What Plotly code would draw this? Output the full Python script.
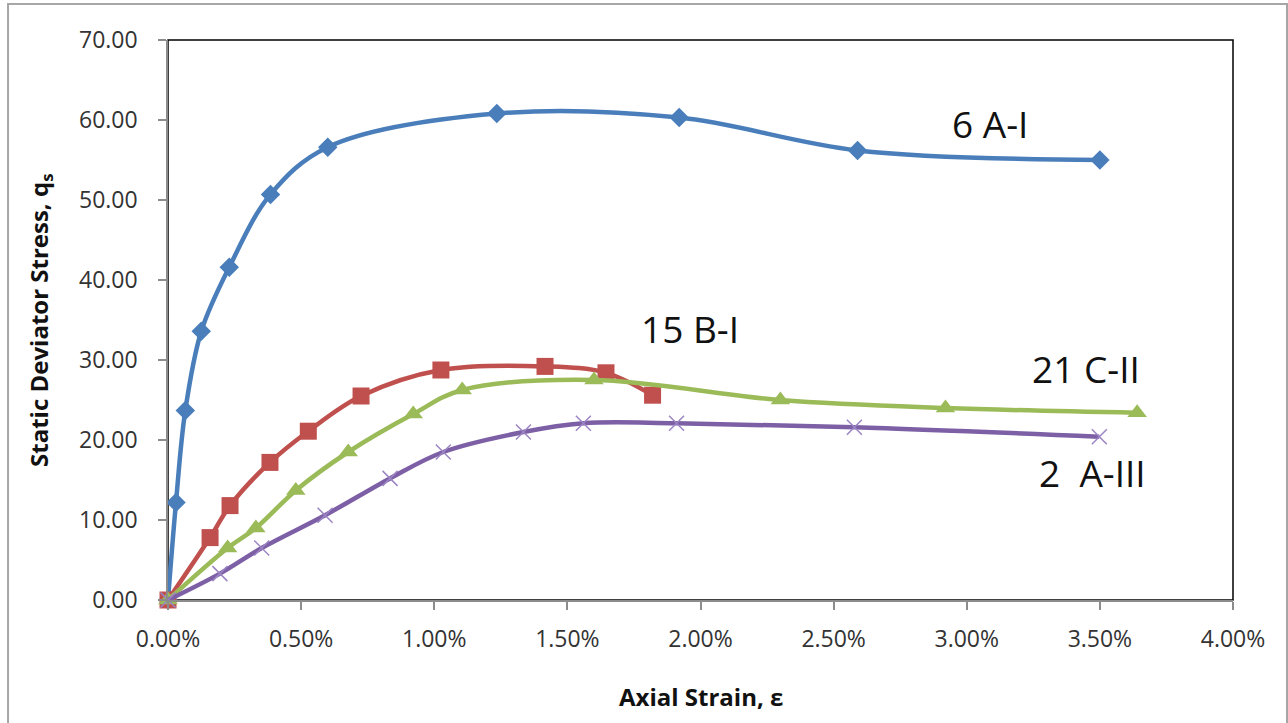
import plotly.graph_objects as go

# Axial strain (fraction) and static deviator stress for each specimen
strain_6AI = [0.0, 0.0003, 0.00065, 0.00125, 0.0023, 0.00385, 0.0060, 0.01235, 0.0192, 0.0259, 0.0350]
stress_6AI = [0.0, 12.2, 23.7, 33.6, 41.6, 50.7, 56.6, 60.8, 60.3, 56.2, 55.0]

strain_15BI = [0.0, 0.00158, 0.00233, 0.00383, 0.00527, 0.00725, 0.01025, 0.01416, 0.01645, 0.0182]
stress_15BI = [0.0, 7.8, 11.8, 17.2, 21.1, 25.5, 28.75, 29.2, 28.4, 25.6]

strain_21CII = [0.0, 0.00224, 0.0033, 0.0048, 0.00677, 0.00921, 0.01105, 0.0160, 0.0230, 0.0292, 0.0364]
stress_21CII = [0.0, 6.5, 9.0, 13.7, 18.5, 23.25, 26.25, 27.5, 25.0, 24.0, 23.4]

strain_2AIII = [0.0, 0.00195, 0.00352, 0.0059, 0.00834, 0.01034, 0.01335, 0.0156, 0.0191, 0.02578, 0.03498]
stress_2AIII = [0.0, 3.3, 6.5, 10.6, 15.2, 18.5, 21.0, 22.1, 22.1, 21.6, 20.4]

series_labels = ["6 A-I", "15 B-I", "21 C-II", "2  A-III"]
label_x = [0.03087, 0.0196, 0.03448, 0.03474]
label_y = [59.6, 34.0, 29.0, 16.0]

y_ticks = [0, 10, 20, 30, 40, 50, 60, 70]
x_ticks = [0.0, 0.005, 0.01, 0.015, 0.02, 0.025, 0.03, 0.035, 0.04]

fig = go.Figure()

def add_series(x, y, color, symbol, size, mline=0, mcolor=None):
    fig.add_trace(go.Scatter(
        x=x, y=y, mode="lines+markers",
        line=dict(color=color, width=4.5, shape="spline", smoothing=1.0),
        marker=dict(symbol=symbol, size=size, color=mcolor or color,
                    line=dict(width=mline, color=mcolor or color)),
        cliponaxis=False, showlegend=False,
    ))

add_series(strain_6AI, stress_6AI, "#4A7EBB", "diamond", 15)
add_series(strain_15BI, stress_15BI, "#C0504D", "square", 17)
add_series(strain_21CII, stress_21CII, "#9BBB59", "triangle-up", 17)
add_series(strain_2AIII, stress_2AIII, "#7D5FA6", "x-thin-open", 15, mline=1.5, mcolor="#9C85C4")

for text, lx, ly in zip(series_labels, label_x, label_y):
    fig.add_annotation(x=lx, y=ly, text=text, showarrow=False,
                       font=dict(family="Open Sans", size=37, color="#111111"),
                       xanchor="center", yanchor="middle")

# Axis titles
fig.add_annotation(xref="paper", yref="paper", x=0.5, y=-0.1732,
                   text="<b>Axial Strain, ε</b>", showarrow=False,
                   font=dict(family="Open Sans", size=24, color="#111111"),
                   xanchor="center", yanchor="middle")
fig.add_annotation(xref="paper", yref="paper", x=-0.1202, y=0.5,
                   text="<b>Static Deviator Stress, q<sub>s</sub></b>", showarrow=False,
                   textangle=-90,
                   font=dict(family="Open Sans", size=24, color="#111111"),
                   xanchor="center", yanchor="middle")

# Outer chart frame and plot-area frame
fig.add_shape(type="rect", xref="paper", yref="paper",
              x0=-0.1502, x1=1.0507, y0=-0.2232, y1=1.0643,
              line=dict(color="#A6A6A6", width=2), layer="below")
fig.add_shape(type="rect", xref="paper", yref="paper",
              x0=0, x1=1, y0=0, y1=1,
              line=dict(color="#000000", width=1.5), layer="below")

fig.update_layout(
    width=1288, height=723,
    margin=dict(l=168, r=55, t=40, b=123),
    paper_bgcolor="white", plot_bgcolor="white",
    font=dict(family="Open Sans", color="#333333"),
)
fig.update_xaxes(
    range=[0, 0.04], tickvals=x_ticks, tickformat=".2%",
    showgrid=False, zeroline=False,
    showline=True, linecolor="#8C8C8C", linewidth=1.5,
    ticks="outside", ticklen=8, tickcolor="#8C8C8C", tickwidth=1.5,
    tickfont=dict(family="Open Sans", size=23, color="#333333"),
    ticklabelstandoff=10,
)
fig.update_yaxes(
    range=[0, 70], tickvals=y_ticks, tickformat=".2f",
    showgrid=False, zeroline=False,
    showline=True, linecolor="#8C8C8C", linewidth=1.5,
    ticks="outside", ticklen=8, tickcolor="#8C8C8C", tickwidth=1.5,
    tickfont=dict(family="Open Sans", size=23, color="#333333"),
    ticklabelstandoff=16,
)

fig.write_html("out.html")
